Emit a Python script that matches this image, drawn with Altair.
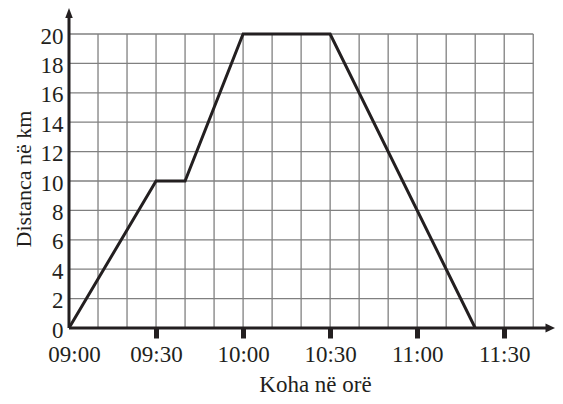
import altair as alt
import pandas as pd

# ---- data ----
times = [0, 30, 40, 60, 90, 140]          # minutes after 09:00
distance = [0, 10, 10, 20, 20, 0]         # km
x_tick_values = [0, 30, 60, 90, 120, 150]
x_tick_labels = ["09:00", "09:30", "10:00", "10:30", "11:00", "11:30"]
y_tick_values = [0, 2, 4, 6, 8, 10, 12, 14, 16, 18, 20]
grid_x = list(range(0, 170, 10))          # vertical grid every 10 min up to 11:40
grid_y = list(range(0, 22, 2))            # horizontal grid every 2 km
grid_x_end = 160
grid_y_end = 20
x_max = 167.5
y_max = 21.77

FONT = "Liberation Serif"
INK = "#231f20"

xs = alt.Scale(domain=[0, x_max], nice=False, zero=False)
ys = alt.Scale(domain=[0, y_max], nice=False, zero=False)

line_df = pd.DataFrame({"t": times, "d": distance})
vgrid_df = pd.DataFrame({"t": grid_x, "d": [0] * len(grid_x), "d2": [grid_y_end] * len(grid_x)})
hgrid_df = pd.DataFrame({"d": grid_y, "t": [0] * len(grid_y), "t2": [grid_x_end] * len(grid_y)})
yaxis_df = pd.DataFrame({"t": [0], "d": [0], "d2": [y_max - 0.45]})
xaxis_df = pd.DataFrame({"d": [0], "t": [0], "t2": [x_max - 2.5]})
uparrow_df = pd.DataFrame({"t": [0], "d": [y_max]})
rightarrow_df = pd.DataFrame({"t": [x_max], "d": [0]})

label_expr = "[" + ",".join("'%s'" % s for s in x_tick_labels) + "][indexof([" + \
    ",".join(str(v) for v in x_tick_values) + "], datum.value)]"

x_axis = alt.Axis(
    values=x_tick_values, labelExpr=label_expr, grid=False, domain=False,
    ticks=True, tickSize=10, tickWidth=5, tickColor=INK,
    tickOpacity=alt.expr("datum.value == 0 ? 0 : 1"),
    labelFont=FONT, labelFontSize=23, labelColor=INK, labelPadding=5,
    labelFlush=False, labelOverlap=False,
    labelOffset=alt.expr("datum.value == 0 ? 5 : 0"),
    title="Koha në orë", titleFont=FONT, titleFontSize=23, titleFontWeight="normal",
    titleColor=INK, titleX=246, titleY=63, titleBaseline="alphabetic", titleAlign="center",
)
y_axis = alt.Axis(
    values=y_tick_values, grid=False, domain=False, ticks=False, tickSize=0,
    labelFont=FONT, labelFontSize=23, labelColor=INK, labelPadding=6,
    labelBaseline="middle", labelOffset=2, labelOverlap=False,
    title="Distanca në km", titleFont=FONT, titleFontSize=22, titleFontWeight="normal",
    titleColor=INK, titleX=-39, titleY=170.5, titleAngle=270,
    titleBaseline="alphabetic", titleAlign="center",
)

X = alt.X("t:Q", scale=xs, axis=x_axis)
Y = alt.Y("d:Q", scale=ys, axis=y_axis)

vgrid = alt.Chart(vgrid_df).mark_rule(color="#808080", strokeWidth=1.3).encode(
    x=X, y=Y, y2="d2:Q",
)
hgrid = alt.Chart(hgrid_df).mark_rule(color="#808080", strokeWidth=1.3).encode(
    y=Y, x=X, x2="t2:Q",
)
yline = alt.Chart(yaxis_df).mark_rule(color=INK, strokeWidth=3).encode(
    x=X, y=Y, y2="d2:Q",
)
xline = alt.Chart(xaxis_df).mark_rule(color=INK, strokeWidth=3).encode(
    y=Y, x=X, x2="t2:Q",
)
up_arrow = alt.Chart(uparrow_df).mark_point(
    shape="M0,0L-0.75,2L0.75,2Z", filled=True, size=100, color=INK, opacity=1
).encode(x=X, y=Y)
right_arrow = alt.Chart(rightarrow_df).mark_point(
    shape="M0,0L-1.9,-0.9L-1.9,0.9Z", filled=True, size=100, color=INK, opacity=1
).encode(x=X, y=Y)

path = alt.Chart(line_df).mark_line(color=INK, strokeWidth=3, strokeJoin="miter").encode(
    x=X, y=Y,
)

chart = alt.layer(vgrid, hgrid, path, xline, yline, up_arrow, right_arrow).properties(
    width=486, height=320,
    autosize=alt.AutoSizeParams(type="none"),
    padding={"left": 61, "top": 0, "right": 0, "bottom": 68},
).configure_view(stroke=None)

chart.save("out.html", embed_options={"renderer": "svg", "actions": False})
